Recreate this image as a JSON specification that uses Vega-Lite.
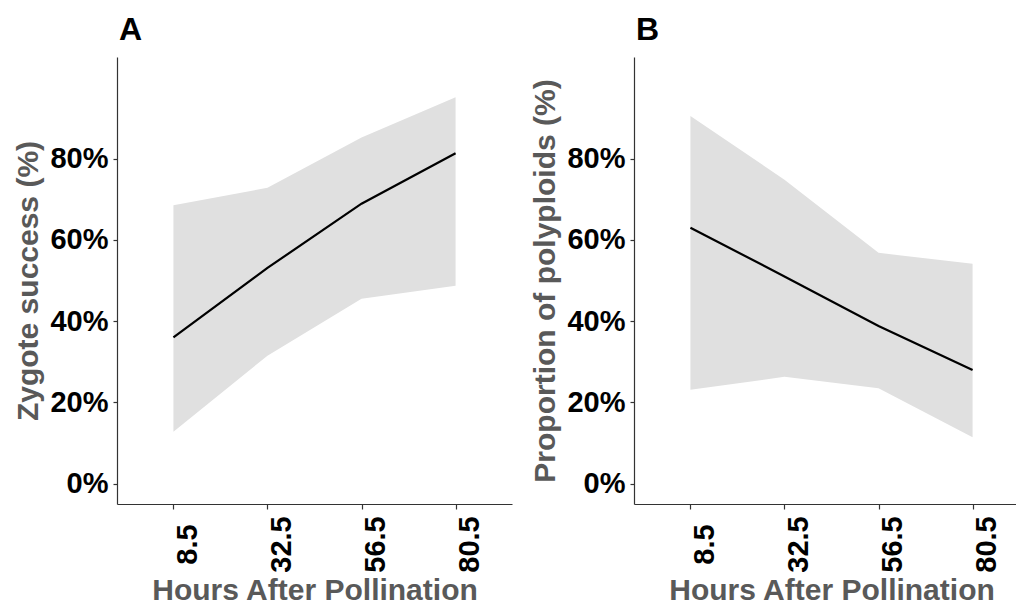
{
  "$schema": "https://vega.github.io/schema/vega-lite/v6.json",
  "background": "white",
  "padding": {"left": 13, "top": 14, "right": 0, "bottom": 0},
  "spacing": 18,
  "config": {
    "view": {"stroke": null},
    "font": "Liberation Sans",
    "axis": {
      "domainColor": "#333333", "domainWidth": 1.2,
      "tickColor": "#333333", "tickWidth": 1.2, "tickSize": 4,
      "grid": false,
      "labelFont": "Liberation Sans", "labelFontSize": 29, "labelFontWeight": "bold", "labelColor": "black",
      "titleFont": "Liberation Sans", "titleFontSize": 30, "titleFontWeight": "bold", "titleColor": "#595959"
    },
    "axisX": {"tickSize": 5, "labelAngle": 270, "labelAlign": "center", "labelBaseline": "top", "labelPadding": 35, "titlePadding": 3},
    "axisY": {"labelPadding": 5, "titlePadding": 6},
    "title": {"fontSize": 32, "fontWeight": "bold", "anchor": "start", "frame": "group", "color": "black", "offset": 10, "dx": 2}
  },
  "datasets": {
    "a": [
      {"hours": 8.5, "fit": 0.36, "lower": 0.128, "upper": 0.685},
      {"hours": 32.5, "fit": 0.531, "lower": 0.315, "upper": 0.728},
      {"hours": 56.5, "fit": 0.689, "lower": 0.455, "upper": 0.852},
      {"hours": 80.5, "fit": 0.813, "lower": 0.487, "upper": 0.951}
    ],
    "b": [
      {"hours": 8.5, "fit": 0.63, "lower": 0.231, "upper": 0.905},
      {"hours": 32.5, "fit": 0.51, "lower": 0.263, "upper": 0.748},
      {"hours": 56.5, "fit": 0.388, "lower": 0.235, "upper": 0.568},
      {"hours": 80.5, "fit": 0.28, "lower": 0.114, "upper": 0.541}
    ]
  },
  "hconcat": [
    {
      "title": "A",
      "width": 395, "height": 447,
      "data": {"name": "a"},
      "encoding": {
        "x": {"field": "hours", "type": "ordinal", "sort": [8.5, 32.5, 56.5, 80.5], "scale": {"type": "point", "padding": 0.6}, "title": "Hours After Pollination"}
      },
      "layer": [
        {
          "mark": {"type": "area", "color": "#e0e0e0"},
          "encoding": {
            "y": {"field": "lower", "type": "quantitative", "scale": {"domain": [-0.05, 1.05], "nice": false, "zero": false}, "axis": {"values": [0, 0.2, 0.4, 0.6, 0.8], "format": ".0%"}, "title": "Zygote success (%)"},
            "y2": {"field": "upper"}
          }
        },
        {
          "mark": {"type": "line", "color": "black", "strokeWidth": 2.2},
          "encoding": {"y": {"field": "fit", "type": "quantitative"}}
        }
      ]
    },
    {
      "title": "B",
      "width": 395, "height": 447,
      "data": {"name": "b"},
      "encoding": {
        "x": {"field": "hours", "type": "ordinal", "sort": [8.5, 32.5, 56.5, 80.5], "scale": {"type": "point", "padding": 0.6}, "title": "Hours After Pollination"}
      },
      "layer": [
        {
          "mark": {"type": "area", "color": "#e0e0e0"},
          "encoding": {
            "y": {"field": "lower", "type": "quantitative", "scale": {"domain": [-0.05, 1.05], "nice": false, "zero": false}, "axis": {"values": [0, 0.2, 0.4, 0.6, 0.8], "format": ".0%"}, "title": "Proportion of polyploids (%)"},
            "y2": {"field": "upper"}
          }
        },
        {
          "mark": {"type": "line", "color": "black", "strokeWidth": 2.2},
          "encoding": {"y": {"field": "fit", "type": "quantitative"}}
        }
      ]
    }
  ]
}
